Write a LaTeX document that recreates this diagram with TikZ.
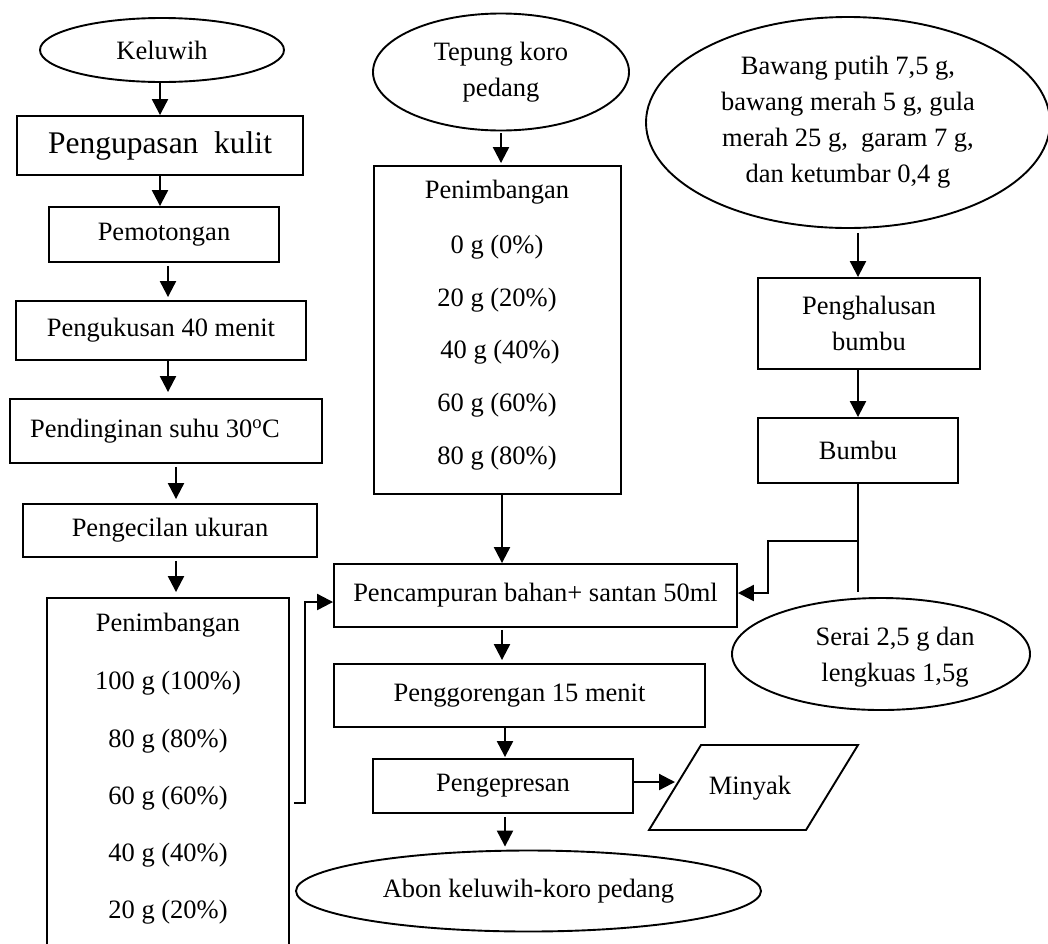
\documentclass[tikz,border=0pt]{standalone}
\usepackage{fontspec}
\setmainfont{Liberation Serif}
\usetikzlibrary{shapes.geometric,arrows.meta}
\begin{document}
\begin{tikzpicture}[x=1pt,y=-1pt,
  every node/.style={font=\fontsize{26.5}{36}\selectfont},
  box/.style={draw, rectangle, inner sep=0pt, align=center, line width=1.9pt},
  oval/.style={draw, ellipse, inner sep=0pt, align=center, line width=1.9pt},
  lbl/.style={inner sep=0pt, align=center},
  arr/.style={-{Triangle[length=16pt,width=16pt]}, line width=2.2pt},
  conn/.style={line width=2pt}]
\fill[white] (0,0) rectangle (1048,943);
\useasboundingbox (0,0) rectangle (1048,943);

% helper coordinates
\coordinate (lx1) at (160,0);
\coordinate (lx2) at (168,0);
\coordinate (lx3) at (176,0);
\coordinate (mx1) at (502,0);
\coordinate (mx2) at (505,0);
\coordinate (y803) at (0,803);
\coordinate (lj) at (305,602);
\coordinate (rj) at (858,541);
\coordinate (rk) at (768,593);
\coordinate (bend) at (858,592);
\coordinate (minL) at (675,782);

% left column
\node[oval, minimum width=244pt, minimum height=64pt] (kel) at (162,50) {Keluwih};
\node[box, minimum width=286pt, minimum height=59pt, font=\fontsize{31.5}{36}\selectfont] (kup) at (160,145.5) {Pengupasan\ \ kulit};
\node[box, minimum width=230pt, minimum height=55pt] (pot) at (164,234.5) {Pemotongan};
\node[box, minimum width=290pt, minimum height=59pt] (kus) at (161,330.5) {Pengukusan 40 menit};
\node[box, minimum width=312pt, minimum height=64pt] (din) at (166,431) {Pendinginan suhu 30\textsuperscript{o}C\hspace*{22pt}};
\node[box, minimum width=294pt, minimum height=53pt] (kec) at (170,530.5) {Pengecilan ukuran};
\node[box, minimum width=242pt, minimum height=362pt] (lwb) at (168,779) {};
\node[lbl] (lt0) at (168,625) {Penimbangan};
\node[lbl] (lt1) at (168,683) {100 g (100\%)};
\node[lbl] (lt2) at (168,741) {80 g (80\%)};
\node[lbl] (lt3) at (168,798) {60 g (60\%)};
\node[lbl] (lt4) at (168,855) {40 g (40\%)};
\node[lbl] (lt5) at (168,912) {20 g (20\%)};

% middle column
\node[oval, minimum width=256pt, minimum height=117pt] (tep) at (501,72) {Tepung koro\\pedang};
\node[box, minimum width=247pt, minimum height=328pt] (rwb) at (497.5,330) {};
\node[lbl] (rt0) at (497,192) {Penimbangan};
\node[lbl] (rt1) at (497,247) {0 g (0\%)};
\node[lbl] (rt2) at (497,300) {20 g (20\%)};
\node[lbl] (rt3) at (500,352) {40 g (40\%)};
\node[lbl] (rt4) at (497,405) {60 g (60\%)};
\node[lbl] (rt5) at (497,458) {80 g (80\%)};

\node[box, minimum width=403pt, minimum height=63pt] (pcm) at (535.5,595.5) {Pencampuran bahan+ santan 50ml};
\node[box, minimum width=371pt, minimum height=63pt] (gor) at (519.5,695.5) {Penggorengan 15 menit};
\node[box, minimum width=260pt, minimum height=54pt] (pep) at (503,786) {Pengepresan};
\node[oval, minimum width=465pt, minimum height=81pt] (abn) at (528.5,891) {Abon keluwih-koro pedang};
\draw[line width=1.9pt, line join=miter] (649,830) -- (701,745) -- (858,745) -- (806,830) -- cycle;
\node[lbl] (min) at (750,788) {Minyak};

% right column
\node[oval, minimum width=404pt, minimum height=211pt] (baw) at (848,122.5) {Bawang putih 7,5 g,\\bawang merah 5 g, gula\\merah 25 g,\ \ garam 7 g,\\dan ketumbar 0,4 g};
\node[box, minimum width=222pt, minimum height=91pt] (hal) at (869,323.5) {Penghalusan\\bumbu};
\node[box, minimum width=200pt, minimum height=65pt] (bum) at (858,450.5) {Bumbu};
\node[oval, minimum width=298pt, minimum height=112pt] (ser) at (881,654) {};
\node[lbl] (serT) at (895,657) {Serai 2,5 g dan\\lengkuas 1,5g};

% arrows left
\draw[arr] (kel.south -| lx1) -- (kup.north -| lx1);
\draw[arr] (kup.south -| lx1) -- (pot.north -| lx1);
\draw[arr] ([yshift=-3pt]pot.south -| lx2) -- ([yshift=3pt]kus.north -| lx2);
\draw[arr] (kus.south -| lx2) -- ([yshift=6pt]din.north -| lx2);
\draw[arr] ([yshift=-3pt]din.south -| lx3) -- ([yshift=4pt]kec.north -| lx3);
\draw[arr] ([yshift=-3pt]kec.south -| lx3) -- ([yshift=5pt]lwb.north -| lx3);
\draw[arr, shorten <=4pt] (lwb.east |- y803) -| (lj) -- (pcm.west |- lj);

% arrows middle
\draw[arr] ([yshift=-2pt]tep.south) -- ([yshift=2pt]tep.south |- rwb.north);
\draw[arr] (rwb.south -| mx1) -- (pcm.north -| mx1);
\draw[arr] ([yshift=-2pt]pcm.south -| mx1) -- ([yshift=3pt]gor.north -| mx1);
\draw[arr] (gor.south -| mx2) -- ([yshift=1pt]pep.north -| mx2);
\draw[arr] ([yshift=-3pt]pep.south -| mx2) -- ([yshift=3pt]abn.north -| mx2);
\draw[arr] (pep.east |- minL) -- (minL);

% arrows right
\draw[arr] ([yshift=-4pt]baw.south -| bum.north) -- (hal.north -| bum.north);
\draw[arr] (hal.south -| bum.north) -- (bum.north);
\draw[conn] (bum.south) -- (bend);
\draw[arr] (rj) -| (rk) -- (pcm.east |- rk);
\end{tikzpicture}
\end{document}
